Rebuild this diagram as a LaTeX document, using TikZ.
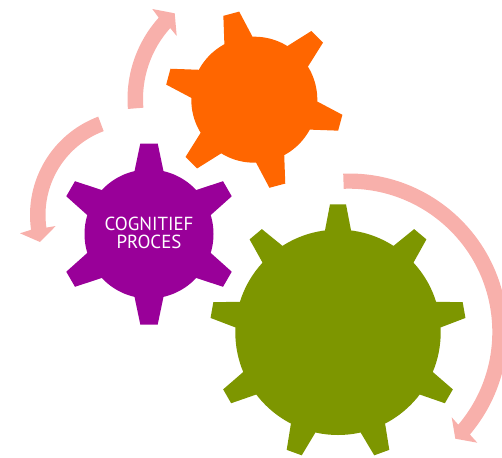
\documentclass[tikz,border=0pt]{standalone}
\usepackage{fontspec}
\setsansfont{PT Sans}
\usetikzlibrary{calc}
\definecolor{gearpurple}{RGB}{153,0,153}
\definecolor{gearorange}{RGB}{255,102,0}
\definecolor{geargreen}{RGB}{125,150,0}
\definecolor{arrowpink}{RGB}{248,176,171}
\tikzset{
    purplegear/.style={fill=gearpurple},
    orangegear/.style={fill=gearorange},
    greengear/.style={fill=geargreen},
    bentarrow/.style={fill=arrowpink},
}

\begin{document}
\begin{tikzpicture}[x=1pt, y=-1pt]
                \useasboundingbox (0, 0) rectangle (502, 457);

                \fill[bentarrow] ($(249, 99)+(175.3:121.5)$) arc[start angle=175.3, end angle=222, radius=121.5]
                    -- (152.3, 9) -- (174.7, 13.3) -- (176.7, 36)
                    -- ($(249, 99)+(222:106)$) arc[start angle=222, end angle=175.3, radius=106] -- cycle;
                \fill[bentarrow] ($(135, 215)+(249.5:105)$) arc[start angle=249.5, end angle=171.9, radius=105]
                    -- (20, 233.3) -- (40, 242) -- (55.7, 226)
                    -- ($(135, 215)+(171.9:89.5)$) arc[start angle=171.9, end angle=249.5, radius=89.5] -- cycle;
                \fill[bentarrow] ($(349, 332)+(267.9:158.5)$) arc[start angle=267.9, end angle=400.3, radius=158.5]
                    -- (477.3, 442.7) -- (455.3, 438.7) -- (451.7, 417.3)
                    -- ($(349, 332)+(40.3:143.3)$) arc[start angle=40.3, end angle=-92.1, radius=143.3] -- cycle;

                \fill[purplegear] (149, 234) circle (64.5);
                \foreach \a in {0, 60, ..., 300}
                    \fill[purplegear, shift={(149, 234)}, rotate=\a] (0, 0) -- (-14.5, -62.8) -- (-8.7, -90.5) -- (8.7, -90.5) -- (14.5, -62.8) -- cycle;

                \fill[orangegear] (254.3, 99.7) circle (63);
                \foreach \a in {15, 75, ..., 315}
                    \fill[orangegear, shift={(254.3, 99.7)}, rotate=\a] (0, 0) -- (-14.5, -61.5) -- (-8.2, -89) -- (8.2, -89) -- (14.5, -61.5) -- cycle;

                \fill[greengear] (338, 332.3) circle (102.7);
                \foreach \a in {0, 40, ..., 320}
                    \fill[greengear, shift={(338, 332.3)}, rotate=\a] (0, 0) -- (-13, -102) -- (-8, -128) -- (8, -128) -- (13, -102) -- cycle;

                \node[text=white, align=center, font=\sffamily\fontsize{18.9}{18}\selectfont] (label) at (149, 233) {COGNITIEF\\PROCES};
            \end{tikzpicture}
\end{document}
